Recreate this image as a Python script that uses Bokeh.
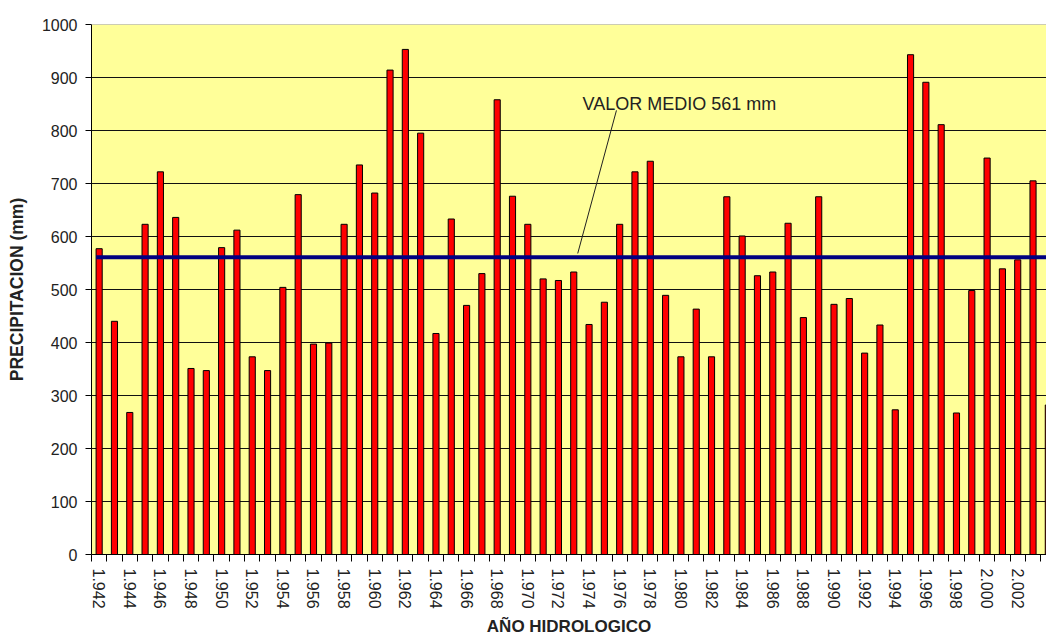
from bokeh.plotting import figure
from bokeh.models import Range1d, FixedTicker, Span, Label
from bokeh.embed import file_html
from bokeh.resources import INLINE

# ---- data ----
years = list(range(1942, 2005))
precip = [577, 440, 268, 623, 722, 636, 351, 347, 579, 612,
          373, 347, 504, 679, 397, 399, 623, 735, 682, 914,
          953, 795, 417, 633, 470, 530, 858, 676, 623, 520,
          517, 533, 434, 476, 623, 722, 742, 489, 373, 463,
          373, 675, 601, 526, 533, 625, 447, 675, 472, 483,
          380, 433, 273, 943, 891, 811, 267, 498, 748, 539,
          556, 705, 282]
MEAN = 561
tick_years = years[::2]
tick_labels = [f"{y // 1000}.{y % 1000:03d}" for y in tick_years]
y_ticks = list(range(0, 1001, 100))

FONT = "Liberation Sans"
BAR_W = 0.4

p = figure(width=1046, height=638, output_backend="svg", toolbar_location=None,
           x_range=Range1d(1941.5, 2003.88), y_range=Range1d(0, 1000),
           min_border_left=91, min_border_right=0, min_border_top=24,
           min_border_bottom=82)
p.background_fill_color = "#FFFF99"
p.border_fill_color = "white"
p.outline_line_color = None

p.xgrid.visible = False
p.ygrid.ticker = FixedTicker(ticks=y_ticks[1:-1])
p.ygrid.grid_line_color = "#111111"
p.ygrid.grid_line_width = 1.2

p.add_layout(Span(location=y_ticks[-1], dimension="width",
                  line_color="#9a9a9a", line_width=1))

p.vbar(x=years, top=precip, bottom=0, width=BAR_W,
       fill_color="#FF0000", line_color="black", line_width=1)

# mean line
p.line(x=[years[0] - BAR_W / 2, years[-1] + 1], y=[MEAN, MEAN],
       line_color="#000080", line_width=4)

# annotation
p.line(x=[1975.79, 1973.26], y=[838, 568], line_color="#222222", line_width=1)
p.add_layout(Label(x=1973.57, y=850, text=f"VALOR MEDIO {MEAN} mm",
                   text_font=FONT, text_font_size="18px", text_color="#222222",
                   text_baseline="alphabetic"))

# y axis
ya = p.yaxis[0]
ya.ticker = FixedTicker(ticks=y_ticks)
ya.axis_line_color = "black"
ya.major_tick_out = 6
ya.major_tick_in = 0
ya.minor_tick_out = 0
ya.minor_tick_in = 0
ya.major_tick_line_color = "black"
ya.major_label_text_font = FONT
ya.major_label_text_font_size = "16px"
ya.major_label_text_color = "#222222"
ya.major_label_standoff = 8
ya.axis_label = "PRECIPITACION (mm)"
ya.axis_label_text_font = FONT
ya.axis_label_text_font_style = "bold"
ya.axis_label_text_font_size = "17.5px"
ya.axis_label_text_color = "#222222"
ya.axis_label_standoff = 12

# x axis
xa = p.xaxis[0]
xa.ticker = FixedTicker(ticks=tick_years,
                        minor_ticks=[y - 0.5 for y in years] + [years[-1] + 0.5])
xa.axis_line_color = "black"
xa.major_tick_out = 7
xa.major_tick_in = 0
xa.major_tick_line_color = None
xa.minor_tick_out = 7
xa.minor_tick_in = 0
xa.minor_tick_line_color = "black"
xa.major_label_orientation = "vertical"
xa.major_label_overrides = {y: lab for y, lab in zip(tick_years, tick_labels)}
xa.major_label_text_font = FONT
xa.major_label_text_font_size = "16px"
xa.major_label_text_color = "#222222"
xa.major_label_standoff = 7
xa.axis_label = "AÑO HIDROLOGICO"
xa.axis_label_text_font = FONT
xa.axis_label_text_font_style = "bold"
xa.axis_label_text_font_size = "17px"
xa.axis_label_text_color = "#222222"
xa.axis_label_standoff = 5

open("out.html", "w").write(file_html(p, INLINE))
